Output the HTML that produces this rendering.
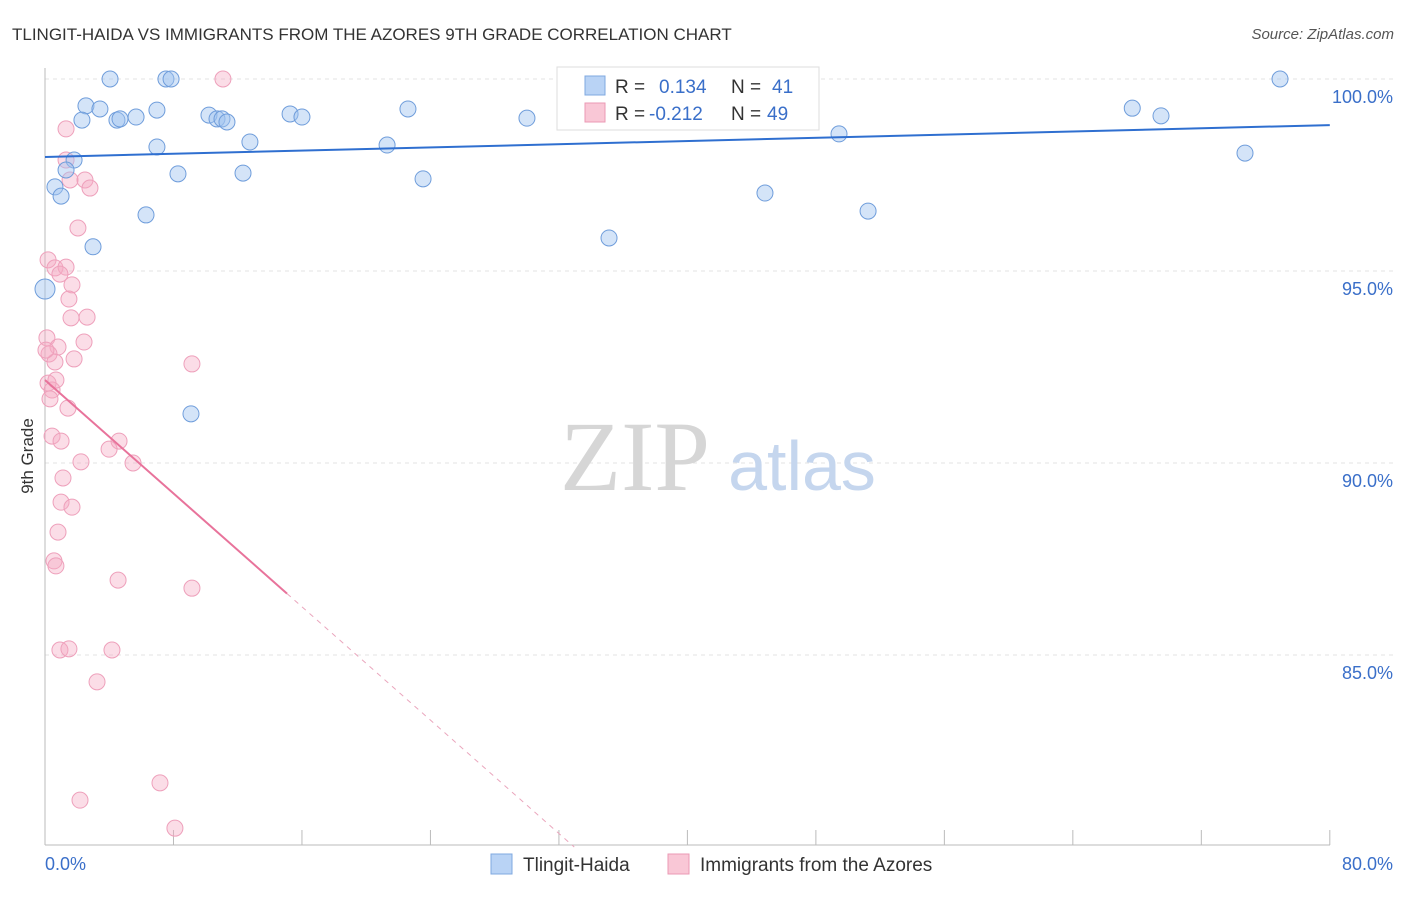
<!DOCTYPE html>
<html><head><meta charset="utf-8"><style>
body{margin:0;background:#fff;font-family:"Liberation Sans",sans-serif;}
</style></head><body>
<svg id="chart" width="1406" height="892" style="font-family:'Liberation Sans',sans-serif">
<text x="12" y="40" font-size="17" fill="#333">TLINGIT-HAIDA VS IMMIGRANTS FROM THE AZORES 9TH GRADE CORRELATION CHART</text>
<text x="1394" y="39" font-size="15" fill="#555" font-style="italic" text-anchor="end">Source: ZipAtlas.com</text>
<text x="0" y="0" font-size="17" fill="#333" text-anchor="middle" transform="translate(33,456) rotate(-90)">9th Grade</text>
<g id="grid"></g>
<text x="635" y="490" font-size="100" fill="#d6d6d6" style="font-family:'Liberation Serif',serif" text-anchor="middle">ZIP</text>
<text x="802" y="490" font-size="70" fill="#c5d6ee" text-anchor="middle">atlas</text>
<g id="marks"></g>
<g>
<rect x="557" y="67" width="262" height="63" fill="#fff" stroke="#ddd"/>
<rect x="585" y="76" width="20" height="19" fill="#b9d3f5" stroke="#7fa8e0"/>
<rect x="585" y="103" width="20" height="19" fill="#f9c7d6" stroke="#eb9ab4"/>
<text x="615" y="93" font-size="19" fill="#333">R =</text><text x="659" y="93" font-size="19" fill="#3a6fc9">0.134</text>
<text x="731" y="93" font-size="19" fill="#333">N =</text><text x="772" y="93" font-size="19" fill="#3a6fc9">41</text>
<text x="615" y="120" font-size="19" fill="#333">R =</text><text x="649" y="120" font-size="19" fill="#3a6fc9">-0.212</text>
<text x="731" y="120" font-size="19" fill="#333">N =</text><text x="767" y="120" font-size="19" fill="#3a6fc9">49</text>
</g>
<g>
<rect x="491" y="854" width="21" height="20" fill="#b9d3f5" stroke="#7fa8e0"/>
<text x="523" y="871" font-size="19" fill="#333">Tlingit-Haida</text>
<rect x="668" y="854" width="21" height="20" fill="#f9c7d6" stroke="#eb9ab4"/>
<text x="700" y="871" font-size="19" fill="#333">Immigrants from the Azores</text>
</g>
</svg>
<script>
const blueX=[4.05,7.53,7.85,36.6,76.9,2.55,3.42,6.97,22.6,67.7,2.30,4.48,4.67,5.67,10.21,10.71,11.02,11.33,15.26,16.0,30.01,69.49,6.97,12.76,21.3,49.44,1.81,74.72,1.31,8.28,12.33,23.54,0.62,1.0,44.83,6.29,51.25,2.99,35.12,0,9.09];
const blueY=[100,100,100,100,100,99.3,99.22,99.19,99.22,99.24,98.93,98.93,98.96,99.01,99.06,98.96,98.96,98.88,99.09,99.01,98.98,99.04,98.23,98.36,98.28,98.57,97.89,98.07,97.63,97.53,97.55,97.4,97.19,96.95,97.03,96.46,96.56,95.63,95.86,94.53,91.28];
const pinkX=[11.08,1.31,1.31,1.56,2.49,2.8,2.05,0.19,0.62,1.31,0.93,1.68,1.49,1.62,2.62,0.12,0.81,2.43,0.25,0.62,1.81,9.15,0.19,0.44,0.31,1.43,0.44,1.0,4.61,3.99,2.24,5.48,1.12,1.0,1.68,0.81,0.56,0.68,4.55,9.15,0.93,1.49,4.17,3.24,7.16,2.18,8.09,0.06,0.68];
const pinkY=[100,98.7,97.89,97.37,97.37,97.16,96.12,95.29,95.08,95.1,94.92,94.64,94.27,93.78,93.8,93.26,93.02,93.15,92.84,92.63,92.71,92.58,92.08,91.9,91.67,91.43,90.7,90.57,90.57,90.36,90.03,90.0,89.61,88.98,88.85,88.2,87.45,87.32,86.95,86.74,85.13,85.16,85.13,84.3,81.67,81.22,80.49,92.94,92.16];
const yTicks=[100,95,90,85];
const yTickLabels=["100.0%","95.0%","90.0%","85.0%"];
const xTickLabels=["0.0%","80.0%"];
const blueTrend=[97.97,98.8];
const pinkTrend=[92.16,-0.369];
const NS="http://www.w3.org/2000/svg";
const X=v=>45+v*16.06, Y=v=>79+(100-v)*38.4;
function mk(p,t,a){const e=document.createElementNS(NS,t);for(const k in a)e.setAttribute(k,a[k]);p.appendChild(e);return e;}
const g=document.getElementById('grid'), m=document.getElementById('marks');
yTicks.forEach((t,i)=>{
 const l=mk(g,'line',{x1:45,x2:1394,y1:Y(t),y2:Y(t),stroke:'#e3e3e3','stroke-dasharray':'4,4'});
 
 
 const tx=mk(g,'text',{x:1393,y:Y(t)+24,'font-size':18,fill:'#3a6fc9','text-anchor':'end'});
 tx.textContent=yTickLabels[i];
 
 
});
const ax=mk(g,'line',{x1:45,x2:1330,y1:845,y2:845,stroke:'#bbb'});


const ay=mk(g,'line',{x1:45,x2:45,y1:68,y2:845,stroke:'#bbb'});


for(let i=0;i<=10;i++){const t=mk(g,'line',{x1:X(i*8),x2:X(i*8),y1:830,y2:845,stroke:'#bbb'});
 
 }
const xl0=mk(g,'text',{x:45,y:870,'font-size':18,fill:'#3a6fc9'});xl0.textContent=xTickLabels[0];


const xl1=mk(g,'text',{x:1393,y:870,'font-size':18,fill:'#3a6fc9','text-anchor':'end'});xl1.textContent=xTickLabels[1];


pinkX.forEach((x,i)=>{const c=mk(m,'circle',{cx:X(x),cy:Y(pinkY[i]),r:8,fill:'rgba(246,170,196,0.4)',stroke:'#eea0bb','stroke-width':1});
 
 });
blueX.forEach((x,i)=>{const c=mk(m,'circle',{cx:X(x),cy:Y(blueY[i]),r:(x===0?10:8),fill:'rgba(160,195,240,0.45)',stroke:'#6f9ddb','stroke-width':1});
 
 });
const bl=mk(m,'line',{x1:X(0),y1:Y(blueTrend[0]),x2:X(80),y2:Y(blueTrend[1]),stroke:'#2f6fd0','stroke-width':2});


const pe=15.07, pz=(80-pinkTrend[0])/pinkTrend[1];
const pl=mk(m,'line',{x1:X(0),y1:Y(pinkTrend[0]),x2:X(pe),y2:Y(pinkTrend[0]+pinkTrend[1]*pe),stroke:'#e8739b','stroke-width':2});


const pd=mk(m,'line',{x1:X(pe),y1:Y(pinkTrend[0]+pinkTrend[1]*pe),x2:X(pz),y2:Y(80),stroke:'#eaa6bd','stroke-width':1,'stroke-dasharray':'5,5'});


</script>
</body></html>
